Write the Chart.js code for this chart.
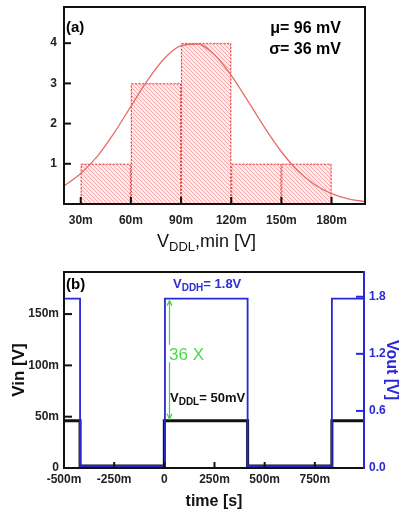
<!DOCTYPE html>
<html>
<head>
<meta charset="utf-8">
<script src="https://cdn.jsdelivr.net/npm/chart.js@4.4.0/dist/chart.umd.min.js"></script>
<style>
body { margin: 0; background: #fff; }
#wrap { position: relative; width: 401px; height: 511px; font-family: "Liberation Sans", Arial, sans-serif; }
canvas { position: absolute; left: 0; }
.t { position: absolute; white-space: nowrap; line-height: 1; }
.t sub { vertical-align: -4px; line-height: 0; }
</style>
</head>
<body>
<div id="wrap">
  <canvas id="histChart" width="401" height="250" style="top:0;width:401px;height:250px"></canvas>
  <canvas id="pulseChart" width="401" height="261" style="top:250px;width:401px;height:261px"></canvas>

  <div class="t" style="left:66px;top:19px;font-weight:bold;font-size:15px">(a)</div>
  <div class="t" style="right:60px;top:17px;font-weight:bold;font-size:16px;line-height:21px;text-align:right">&mu;= 96 mV<br>&sigma;= 36 mV</div>
  <div class="t" style="left:157px;top:232px;font-size:18px;color:#111">V<sub style="font-size:13px">DDL</sub>,min [V]</div>

  <div class="t" style="left:66px;top:276px;font-weight:bold;font-size:15px">(b)</div>
  <div class="t" style="left:173px;top:277px;font-weight:bold;font-size:13px;color:#2e2ed6">V<sub style="font-size:10px;vertical-align:-3px">DDH</sub>= 1.8V</div>
  <div class="t" style="left:169px;top:346px;font-size:17px;color:#4cd94c">36 X</div>
  <div class="t" style="left:170px;top:391px;font-weight:bold;font-size:13px;color:#111">V<sub style="font-size:10px;vertical-align:-3px">DDL</sub>= 50mV</div>
</div>

<script>
// ---- panel (a): histogram of VDDL,min (mV) ----
const binCenters = [45, 75, 105, 135, 165];
const binCounts = [1, 3, 4, 1, 1];
// fitted curve
const fitX = [20, 30, 40, 50, 60, 70, 80, 90, 100, 110, 120, 130, 140, 150, 160, 170, 180, 190, 200];
const fitY = [0.45, 0.76, 1.19, 1.77, 2.43, 3.08, 3.62, 3.94, 3.98, 3.71, 3.2, 2.56, 1.9, 1.3, 0.82, 0.48, 0.26, 0.13, 0.06];
const histXTicks = [30, 60, 90, 120, 150, 180];
const histYTicks = [1, 2, 3, 4];

// ---- panel (b): Vin (mV) and Vout (V) against time (ms) ----
const timeVin = [-500, -420, -420, 0, 0, 415, 415, 835, 835, 995];
const vin = [46, 46, 2, 2, 46, 46, 2, 2, 46, 46];
const timeVout = [-500, -420, -420, 3, 3, 415, 415, 835, 835, 995];
const vout = [1.78, 1.78, 0.02, 0.02, 1.78, 1.78, 0.02, 0.02, 1.78, 1.78];
const timeTicks = [-500, -250, 0, 250, 500, 750];
const vinTicks = [0, 50, 100, 150];
const voutTicks = [0, 0.6, 1.2, 1.8];
const arrowTime = 23;
const arrowGap = [103, 120];

Chart.defaults.font.family = '"Liberation Sans", Arial, sans-serif';
Chart.defaults.color = '#222';

const BLUE = '#2828d8';
const tickFont = {size: 12, weight: 'bold'};

function fixTicks(vals) {
  return function(scale) { scale.ticks = vals.map(v => ({value: v})); };
}
function fixSize(w, h) {
  return function(scale) {
    if (w != null) scale.width = w;
    if (h != null) scale.height = h;
    scale.paddingTop = 0; scale.paddingBottom = 0;
    scale.paddingLeft = 0; scale.paddingRight = 0;
  };
}

// frame + inward tick marks
function framePlugin(spec) {
  return {
    id: 'frame',
    afterDatasetsDraw(chart) {
      const {ctx, chartArea: a, scales} = chart;
      const line = (x1, y1, x2, y2, c, w) => {
        ctx.strokeStyle = c; ctx.lineWidth = w;
        ctx.beginPath(); ctx.moveTo(x1, y1); ctx.lineTo(x2, y2); ctx.stroke();
      };
      ctx.save();
      spec.ticks.forEach(t => {
        const s = scales[t.axis];
        t.values.forEach(v => {
          const p = s.getPixelForValue(v);
          if (s.isHorizontal()) line(p, a.bottom, p, a.bottom - t.len, t.color, 2);
          else if (s.position === 'left') line(a.left, p, a.left + t.len, p, t.color, 2);
          else line(a.right, p, a.right - t.len, p, t.color, 2);
        });
      });
      ctx.lineCap = 'square';
      line(a.left, a.top, a.right, a.top, '#111', 2);
      line(a.left, a.top, a.left, a.bottom, '#111', 2);
      line(a.left, a.bottom, a.right, a.bottom, '#111', 2);
      line(a.right, a.top, a.right, a.bottom, spec.right, 2);
      ctx.restore();
    }
  };
}

const dashedBars = {
  id: 'dashedBars',
  afterDatasetDraw(chart, args) {
    if (args.meta.type !== 'bar') return;
    const ctx = chart.ctx;
    ctx.save();
    ctx.strokeStyle = '#e23a3a';
    ctx.lineWidth = 1;
    ctx.setLineDash([2, 1.5]);
    args.meta.data.forEach(b => {
      const {x, y, base, width} = b.getProps(['x', 'y', 'base', 'width'], true);
      ctx.strokeRect(x - width / 2 + 0.5, y + 0.5, width - 1, base - y);
    });
    ctx.restore();
  }
};

const ratioArrow = {
  id: 'ratioArrow',
  afterDatasetsDraw(chart) {
    const {ctx, scales} = chart;
    const x = Math.round(scales.x.getPixelForValue(arrowTime)) + 0.5;
    const yTop = scales.y1.getPixelForValue(Math.max(...vout)) + 2;
    const yBot = scales.y.getPixelForValue(Math.max(...vin)) - 2;
    const g0 = scales.y.getPixelForValue(arrowGap[0]);
    const g1 = scales.y.getPixelForValue(arrowGap[1]);
    ctx.save();
    ctx.strokeStyle = '#3fd63f';
    ctx.lineWidth = 1.2;
    ctx.beginPath();
    ctx.moveTo(x, yTop); ctx.lineTo(x, g1);
    ctx.moveTo(x, g0); ctx.lineTo(x, yBot);
    ctx.moveTo(x - 2.5, yTop + 5); ctx.lineTo(x, yTop); ctx.lineTo(x + 2.5, yTop + 5);
    ctx.moveTo(x - 2.5, yBot - 5); ctx.lineTo(x, yBot); ctx.lineTo(x + 2.5, yBot - 5);
    ctx.stroke();
    ctx.restore();
  }
};

// hatch pattern for the bars
const ctx1 = document.getElementById('histChart').getContext('2d');
const tile = document.createElement('canvas');
tile.width = 4; tile.height = 4;
const tg = tile.getContext('2d');
tg.fillStyle = '#feeaea';
tg.fillRect(0, 0, 4, 4);
tg.strokeStyle = 'rgba(236,120,120,0.6)';
tg.lineWidth = 0.9;
tg.beginPath();
tg.moveTo(-1, -1); tg.lineTo(5, 5);
tg.moveTo(-1, 3); tg.lineTo(1, 5);
tg.moveTo(3, -1); tg.lineTo(5, 1);
tg.stroke();
const hatch = ctx1.createPattern(tile, 'repeat');

new Chart(ctx1, {
  type: 'bar',
  data: {
    datasets: [
      {
        type: 'line',
        data: fitX.map((x, i) => ({x: x, y: fitY[i]})),
        borderColor: '#e86c6c',
        borderWidth: 1.3,
        pointRadius: 0,
        cubicInterpolationMode: 'monotone',
        order: 0
      },
      {
        type: 'bar',
        data: binCenters.map((x, i) => ({x: x, y: binCounts[i]})),
        backgroundColor: hatch,
        borderWidth: 0,
        barPercentage: 1,
        categoryPercentage: 1,
        order: 1
      }
    ]
  },
  options: {
    responsive: false,
    animation: false,
    events: [],
    layout: {padding: {left: 0, right: 36, top: 7, bottom: 0}},
    plugins: {legend: {display: false}, tooltip: {enabled: false}},
    scales: {
      x: {
        type: 'linear', min: 20, max: 200, offset: false,
        afterBuildTicks: fixTicks(histXTicks),
        afterFit: fixSize(null, 46),
        grid: {display: false, drawTicks: false},
        border: {display: false},
        ticks: {callback: v => v + 'm', font: tickFont, padding: 9, maxRotation: 0, autoSkip: false}
      },
      y: {
        type: 'linear', min: 0, max: 4.9,
        afterBuildTicks: fixTicks(histYTicks),
        afterFit: fixSize(64, null),
        grid: {display: false, drawTicks: false},
        border: {display: false},
        ticks: {font: tickFont, padding: 7}
      }
    }
  },
  plugins: [dashedBars, framePlugin({
    right: '#111',
    ticks: [
      {axis: 'x', values: histXTicks, len: 7, color: '#111'},
      {axis: 'y', values: histYTicks, len: 7, color: '#111'}
    ]
  })]
});

new Chart(document.getElementById('pulseChart'), {
  type: 'line',
  data: {
    datasets: [
      {
        label: 'Vin',
        data: timeVin.map((t, i) => ({x: t, y: vin[i]})),
        borderColor: '#111',
        borderWidth: 3,
        pointRadius: 0,
        yAxisID: 'y',
        order: 1
      },
      {
        label: 'Vout',
        data: timeVout.map((t, i) => ({x: t, y: vout[i]})),
        borderColor: BLUE,
        borderWidth: 1.8,
        pointRadius: 0,
        yAxisID: 'y1',
        order: 0
      }
    ]
  },
  options: {
    responsive: false,
    animation: false,
    events: [],
    layout: {padding: {left: 0, right: 0, top: 22, bottom: 0}},
    plugins: {legend: {display: false}, tooltip: {enabled: false}},
    scales: {
      x: {
        type: 'linear', min: -500, max: 995,
        afterBuildTicks: fixTicks(timeTicks),
        afterFit: fixSize(null, 43),
        grid: {display: false, drawTicks: false},
        border: {display: false},
        ticks: {callback: v => v === 0 ? '0' : v + 'm', font: tickFont, padding: 4, maxRotation: 0, autoSkip: false},
        title: {display: true, text: 'time [s]', font: {size: 16, weight: 'bold'}, color: '#111', padding: {top: 1, bottom: 0}}
      },
      y: {
        type: 'linear', position: 'left', min: 0, max: 191,
        afterBuildTicks: fixTicks(vinTicks),
        afterFit: fixSize(64, null),
        grid: {display: false, drawTicks: false},
        border: {display: false},
        ticks: {callback: v => v === 0 ? '0' : v + 'm', font: tickFont, padding: 5},
        title: {display: true, text: 'Vin [V]', font: {size: 17, weight: 'bold'}, color: '#111', padding: {top: 9, bottom: 0}}
      },
      y1: {
        type: 'linear', position: 'right', min: 0, max: 2.06,
        afterBuildTicks: fixTicks(voutTicks),
        afterFit: fixSize(37, null),
        grid: {display: false, drawTicks: false},
        border: {display: false},
        ticks: {callback: v => v.toFixed(1), font: tickFont, color: BLUE, padding: 5},
        title: {display: true, text: 'Vout [V]', font: {size: 16, weight: 'bold'}, color: BLUE, padding: {top: 0, bottom: 0}}
      }
    }
  },
  plugins: [ratioArrow, framePlugin({
    right: BLUE,
    ticks: [
      {axis: 'x', values: timeTicks.slice(1), len: 6, color: '#111'},
      {axis: 'y', values: vinTicks.slice(1), len: 8, color: '#111'},
      {axis: 'y1', values: voutTicks.slice(1), len: 8, color: BLUE}
    ]
  })]
});
</script>
</body>
</html>
